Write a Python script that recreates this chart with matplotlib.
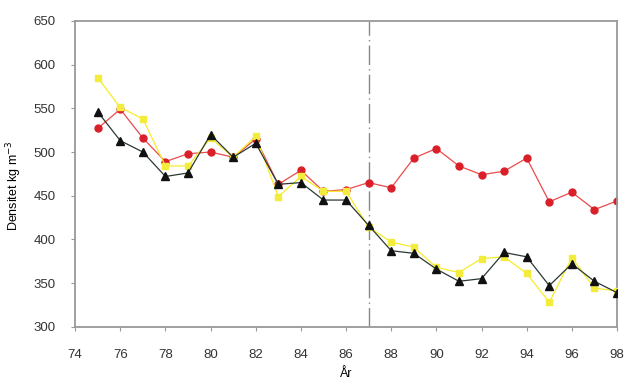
import matplotlib.pyplot as plt

plt.rcParams['font.family'] = ['Liberation Sans', 'DejaVu Sans']

years = list(range(75, 99))

red = [527, 549, 516, 489, 498, 500, 494, 515, 463, 479, 455, 457,
       465, 459, 493, 504, 484, 474, 478, 493, 443, 454, 434, 444]
yellow = [585, 551, 538, 484, 484, 516, 494, 518, 449, 472, 455, 455,
          414, 397, 391, 368, 362, 378, 380, 361, 328, 379, 344, 341]
black = [546, 513, 500, 472, 476, 520, 494, 510, 463, 465, 445, 445,
         416, 387, 384, 366, 352, 355, 385, 380, 347, 372, 352, 339]

fig = plt.figure(figsize=(6.26, 3.79), dpi=100)
ax = fig.add_axes([0.12, 0.138, 0.8656, 0.8066])

ax.plot(years, red, color='#ec4a4a', lw=0.9, marker='o', ms=5,
        mfc='#d9202a', mec='#d9202a', zorder=2)
ax.plot(years, yellow, color='#f7ec2a', lw=0.9, marker='s', ms=4.5,
        mfc='#f3ec3c', mec='#f3ec3c', zorder=3)
ax.plot(years, black, color='#2a3a30', lw=0.9, marker='^', ms=5.5,
        mfc='#111111', mec='#111111', zorder=4)

# dash-dot marker line at 1987
ax.axvline(87, color='#888888', lw=1, ls=(0, (14, 3, 1, 3)), zorder=1)

ax.set_xlim(74, 98)
ax.set_ylim(300, 650)
ax.set_xticks(range(74, 99, 2))
ax.set_yticks(range(300, 651, 50))
ax.tick_params(axis='x', direction='out', length=3, pad=13, labelsize=9.5,
               color='#999999', labelcolor='#333333')
ax.tick_params(axis='y', direction='out', length=3, pad=11, labelsize=9.5,
               color='#999999', labelcolor='#333333')
for side in ['left', 'bottom', 'top', 'right']:
    ax.spines[side].set_color('#999999')
    ax.spines[side].set_linewidth(1.3)

ax.set_xlabel('År', fontsize=9, labelpad=5)
ax.set_ylabel('Densitet kg m$^{-3}$', fontsize=9, labelpad=10)
ax.yaxis.set_label_coords(-0.095, 0.46)

fig.savefig('out.png', dpi=100)
